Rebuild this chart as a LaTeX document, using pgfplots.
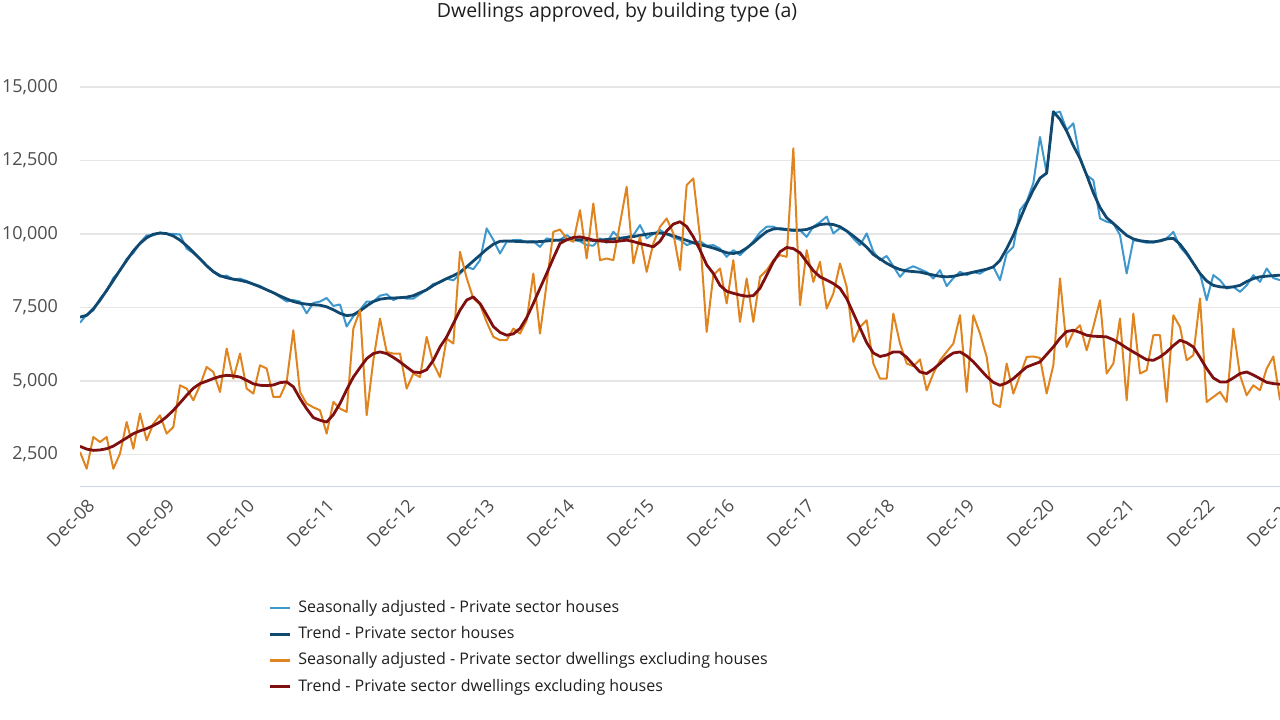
\documentclass[border=0pt]{standalone}
\usepackage{fontspec}
\setmainfont{Open Sans}
\usepackage{pgfplots}
\pgfplotsset{compat=1.18}
\usepackage{pgfplotstable}
\usetikzlibrary{calc}

\definecolor{hsac}{RGB}{62,152,206}
\definecolor{htrc}{RGB}{16,72,112}
\definecolor{dsac}{RGB}{224,132,32}
\definecolor{dtrc}{RGB}{128,16,16}
\definecolor{gridc}{RGB}{230,230,230}
\definecolor{axisc}{RGB}{204,214,235}
\definecolor{tickc}{RGB}{77,77,77}
\definecolor{titlec}{RGB}{30,30,30}

\pgfplotstableread{
m hsa htr dsa dtr
0 6980 7170 2580 2773
1 7250 7230 2012 2680
2 7400 7450 3090 2636
3 7800 7745 2920 2650
4 8050 8080 3090 2693
5 8500 8420 2012 2780
6 8750 8767 2523 2920
7 9150 9100 3600 3060
8 9350 9420 2693 3205
9 9700 9676 3886 3300
10 9950 9870 2977 3375
11 9950 9990 3545 3480
12 10050 10030 3829 3600
13 10000 10010 3205 3780
14 10000 9930 3430 4000
15 9980 9789 4850 4250
16 9500 9600 4738 4510
17 9350 9380 4340 4750
18 9150 9150 4850 4908
19 8900 8920 5474 4990
20 8700 8720 5303 5080
21 8550 8580 4622 5150
22 8580 8510 6100 5190
23 8450 8460 5078 5170
24 8480 8420 5930 5130
25 8400 8370 4738 5020
26 8300 8290 4568 4900
27 8230 8200 5531 4850
28 8100 8100 5420 4840
29 8000 8000 4453 4860
30 7850 7890 4453 4940
31 7700 7790 4965 4965
32 7750 7700 6723 4800
33 7700 7643 4622 4400
34 7300 7610 4227 4050
35 7650 7590 4100 3750
36 7700 7575 4000 3660
37 7820 7520 3205 3600
38 7550 7420 4283 3850
39 7600 7300 4057 4227
40 6850 7220 3943 4700
41 7200 7250 6781 5130
42 7420 7380 7405 5450
43 7700 7550 3829 5758
44 7700 7700 5701 5930
45 7900 7780 7121 5985
46 7950 7810 5985 5930
47 7750 7820 5930 5800
48 7850 7830 5930 5645
49 7800 7850 4738 5470
50 7800 7900 5250 5303
51 7950 8000 5130 5280
52 8100 8100 6497 5380
53 8300 8250 5590 5701
54 8350 8370 5130 6155
55 8480 8480 6440 6497
56 8420 8580 6269 6950
57 8650 8700 9392 7405
58 8880 8880 8500 7750
59 8800 9080 7800 7858
60 9107 9278 7600 7633
61 10187 9480 7000 7250
62 9800 9650 6500 6850
63 9334 9750 6383 6650
64 9730 9760 6383 6553
65 9790 9750 6781 6600
66 9800 9740 6610 6781
67 9720 9730 7064 7150
68 9750 9730 8654 7633
69 9560 9740 6610 8150
70 9850 9760 8313 8654
71 9800 9780 10071 9180
72 9790 9790 10150 9676
73 9960 9800 9846 9800
74 9800 9800 9731 9880
75 9750 9800 10810 9900
76 9620 9790 9165 9850
77 9600 9780 11038 9789
78 9850 9790 9107 9760
79 9700 9810 9165 9740
80 10070 9830 9107 9731
81 9850 9850 10357 9760
82 9900 9880 11605 9789
83 9950 9910 8994 9740
84 10300 9950 9901 9676
85 9850 9990 8710 9620
86 10000 10020 9676 9561
87 10130 10030 10242 9750
88 10000 10000 10527 10100
89 9880 9940 10017 10334
90 9800 9860 8767 10415
91 9620 9780 11662 10250
92 9700 9700 11890 9900
93 9750 9640 9900 9450
94 9600 9580 6667 8950
95 9620 9520 8597 8654
96 9500 9440 8824 8250
97 9221 9360 7633 8050
98 9450 9334 9107 7980
99 9280 9380 7007 7920
100 9500 9520 8484 7880
101 9750 9700 7007 7900
102 10050 9900 8540 8150
103 10245 10080 8767 8600
104 10245 10170 9107 9050
105 10150 10180 9278 9392
106 10130 10150 9221 9540
107 10100 10130 12912 9500
108 10130 10130 7575 9357
109 9900 10150 9448 9050
110 10250 10230 8370 8750
111 10400 10320 9050 8540
112 10590 10340 7462 8430
113 10017 10320 7973 8313
114 10200 10245 8994 8150
115 10100 10100 8200 7800
116 9846 9930 6326 7300
117 9618 9750 6837 6800
118 10017 9550 7064 6300
119 9400 9300 5590 5950
120 9107 9150 5078 5830
121 9250 9000 5078 5880
122 8900 8880 7292 5985
123 8540 8790 6270 5980
124 8800 8740 5590 5800
125 8900 8720 5500 5550
126 8800 8700 5730 5303
127 8700 8650 4680 5250
128 8483 8600 5250 5400
129 8767 8560 5701 5590
130 8225 8540 5985 5800
131 8500 8560 6270 5950
132 8710 8610 7234 5985
133 8600 8650 4622 5850
134 8700 8700 7234 5650
135 8650 8750 6610 5400
136 8800 8800 5815 5150
137 8880 8880 4227 4950
138 8427 9100 4113 4850
139 9334 9500 5590 4930
140 9560 9950 4568 5078
141 10810 10500 5190 5280
142 11100 11038 5815 5474
143 11730 11500 5830 5560
144 13300 11900 5780 5645
145 12070 12070 4570 5900
146 14100 14160 5531 6155
147 14160 13900 8484 6450
148 13535 13500 6155 6680
149 13764 13000 6667 6723
150 12570 12570 6894 6650
151 12000 12000 6042 6553
152 11830 11400 6837 6520
153 10528 10900 7745 6510
154 10415 10550 5250 6497
155 10357 10357 5590 6400
156 9960 10150 7121 6270
157 8654 9950 4340 6120
158 9789 9830 7292 5985
159 9750 9770 5250 5850
160 9700 9740 5361 5720
161 9700 9730 6553 5701
162 9789 9760 6553 5815
163 9846 9830 4283 5985
164 10070 9850 7234 6200
165 9561 9650 6837 6383
166 9300 9350 5701 6300
167 8994 9000 5872 6155
168 8654 8654 7803 5800
169 7745 8400 4283 5420
170 8600 8250 4453 5100
171 8427 8200 4622 4965
172 8140 8180 4283 4965
173 8200 8200 6781 5100
174 8030 8250 5190 5250
175 8250 8380 4510 5303
176 8597 8480 4850 5200
177 8370 8540 4680 5078
178 8824 8563 5420 4950
179 8500 8580 5830 4908
180 8427 8597 4340 4885
}\datatable

\begin{document}
\begin{tikzpicture}
\begin{axis}[
  scale only axis,
  width=600pt, height=214.55pt,
  xmin=0, xmax=180, ymin=1400, ymax=16000,
  xtick={0,12,...,180},
  xticklabels={Dec-08,Dec-09,Dec-10,Dec-11,Dec-12,Dec-13,Dec-14,Dec-15,Dec-16,Dec-17,Dec-18,Dec-19,Dec-20,Dec-21,Dec-22,Dec-23},
  ytick={2500,5000,7500,10000,12500,15000},
  scaled y ticks=false,
  /pgf/number format/1000 sep={,},
  /pgf/number format/assume math mode=true,
  ymajorgrids,
  grid style={color=gridc, line width=0.75pt},
  major tick length=0pt,
  axis x line*=bottom, axis y line*=left,
  x axis line style={draw=axisc, line width=0.75pt, -},
  y axis line style={draw=none},
  tick label style={font=\fontsize{9}{11}\selectfont, text=tickc},
  xticklabel style={rotate=45, anchor=east, inner sep=1pt, yshift=-9.5pt, xshift=-0.5pt},
  yticklabel style={xshift=-7.5pt},
  title={Dwellings approved, by building type (a)},
  title style={at={(0.4475,1)}, anchor=center, yshift=16.8pt, font=\fontsize{9.75}{12}\selectfont, text=titlec},
  legend cell align=left,
  legend style={at={(0.152,-0.2457)}, anchor=north west, draw=none, fill=none,
    font=\fontsize{8}{10}\selectfont, text=titlec, row sep=1.5pt,
    /tikz/every odd column/.append style={column sep=1.5pt}},
  legend image code/.code={\draw[#1, line width=1.3pt] (0pt,0pt) -- (10pt,0pt);},
  line join=round,
]
\coordinate (bl) at (rel axis cs:0,0);
\coordinate (tr) at (rel axis cs:1,1);
\addplot[hsac, line width=1pt] table[x=m,y=hsa]{\datatable};
\addlegendentry{Seasonally adjusted - Private sector houses}
\addplot[htrc, line width=1.4pt] table[x=m,y=htr]{\datatable};
\addlegendentry{Trend - Private sector houses}
\addplot[dsac, line width=1pt] table[x=m,y=dsa]{\datatable};
\addlegendentry{Seasonally adjusted - Private sector dwellings excluding houses}
\addplot[dtrc, line width=1.4pt] table[x=m,y=dtr]{\datatable};
\addlegendentry{Trend - Private sector dwellings excluding houses}
\end{axis}
\pgfresetboundingbox
\path[use as bounding box] ($(bl)+(-40pt,-116.65pt)$) rectangle ($(tr)+(0pt,28.8pt)$);
\end{tikzpicture}
\end{document}
